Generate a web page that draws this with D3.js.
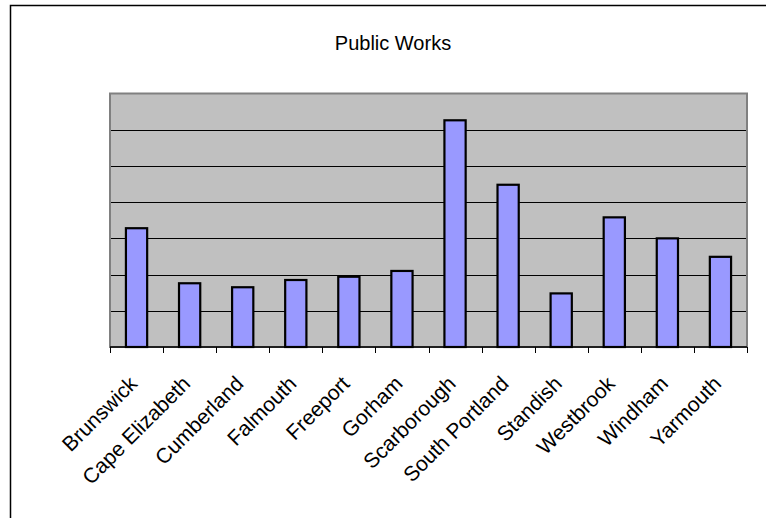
<!DOCTYPE html>
<html>
<head>
<meta charset="utf-8">
<script src="https://cdn.jsdelivr.net/npm/d3@7"></script>
<style>
  html, body { margin: 0; padding: 0; background: #fff; }
  svg { display: block; }
  text { font-family: Arial, "Liberation Sans", sans-serif; fill: #000; }
</style>
</head>
<body>
<svg id="chart" width="766" height="518"></svg>
<script>
const title = "Public Works";
const categories = ["Brunswick", "Cape Elizabeth", "Cumberland", "Falmouth", "Freeport", "Gorham",
  "Scarborough", "South Portland", "Standish", "Westbrook", "Windham", "Yarmouth"];
const values = [3.28, 1.76, 1.65, 1.85, 1.94, 2.10, 6.26, 4.48, 1.48, 3.58, 3.00, 2.49];
const yDomain = [0, 7];
const yGridTicks = [1, 2, 3, 4, 5, 6];

const svg = d3.select("#chart");
const plot = { left: 110, right: 747, top: 93.5, bottom: 347 };

// outer chart border
svg.append("rect")
  .attr("x", 10.5).attr("y", 5.5)
  .attr("width", 900).attr("height", 700)
  .attr("fill", "none").attr("stroke", "#000").attr("stroke-width", 1.5);

svg.append("text")
  .attr("x", 393).attr("y", 50)
  .attr("text-anchor", "middle")
  .style("font-size", "20px")
  .text(title);

const x = d3.scaleBand().domain(categories).range([plot.left, plot.right]).paddingInner(0.6).paddingOuter(0.3);
const xb = d3.scaleBand().domain(categories).range([plot.left, plot.right]);
const y = d3.scaleLinear().domain(yDomain).range([plot.bottom, plot.top]);

// plot background
svg.append("rect")
  .attr("x", plot.left).attr("y", plot.top)
  .attr("width", plot.right - plot.left).attr("height", plot.bottom - plot.top)
  .attr("fill", "#C0C0C0").attr("stroke", "#808080").attr("stroke-width", 2);

// gridlines
svg.append("g").selectAll("line").data(yGridTicks).join("line")
  .attr("x1", plot.left + 1).attr("x2", plot.right - 1)
  .attr("y1", d => Math.round(y(d)) + 0.5).attr("y2", d => Math.round(y(d)) + 0.5)
  .attr("stroke", "#000").attr("stroke-width", 1);

// bars
svg.append("g").selectAll("rect").data(values).join("rect")
  .attr("x", (d, i) => x(categories[i]))
  .attr("width", x.bandwidth())
  .attr("y", d => y(d))
  .attr("height", d => y(0) - y(d))
  .attr("fill", "#9999FF").attr("stroke", "#000").attr("stroke-width", 2.2);

// x axis line
svg.append("line")
  .attr("x1", plot.left).attr("x2", plot.right)
  .attr("y1", plot.bottom).attr("y2", plot.bottom)
  .attr("stroke", "#000").attr("stroke-width", 1.5);

// ticks at category boundaries
const tickPos = categories.map(c => xb(c)).concat([plot.right]);
svg.append("g").selectAll("line").data(tickPos).join("line")
  .attr("x1", d => Math.round(d) + 0.5).attr("x2", d => Math.round(d) + 0.5)
  .attr("y1", plot.bottom).attr("y2", plot.bottom + 6)
  .attr("stroke", "#000").attr("stroke-width", 1);

// category labels
svg.append("g").selectAll("text").data(categories).join("text")
  .attr("transform", c => `translate(${xb(c) + xb.bandwidth() / 2 + 2},385) rotate(-45)`)
  .attr("text-anchor", "end")
  .style("font-size", "21px")
  .text(c => c);
</script>
</body>
</html>
